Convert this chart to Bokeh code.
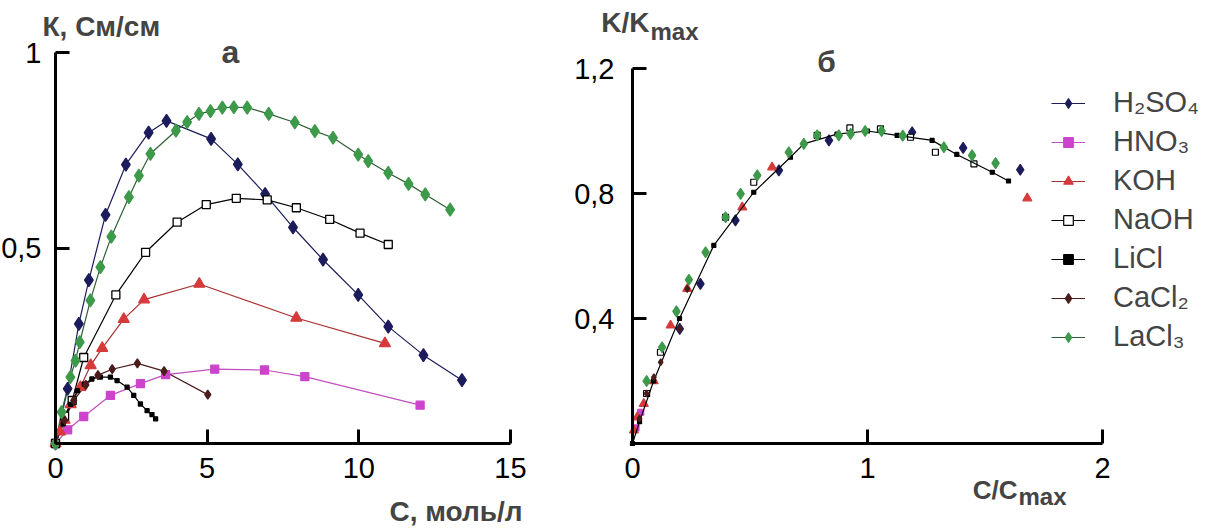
from bokeh.plotting import figure
from bokeh.layouts import row
from bokeh.models import Range1d, FixedTicker, CustomJSTickFormatter, Label, Legend, LegendItem
from bokeh.embed import file_html
from bokeh.resources import INLINE

# ---------------- data ----------------
names = ["H₂SO₄", "HNO₃", "KOH", "NaOH", "LiCl", "CaCl₂", "LaCl₃"]

# panel "а": conductivity K (См/см) vs concentration C (моль/л)
h2so4_c = [0, 0.4, 0.77, 1.10, 1.65, 2.32, 3.07, 3.66, 5.13, 6.01, 6.91, 7.83, 8.82, 9.98, 10.97, 12.13, 13.4]
h2so4_k = [0, 0.14, 0.306, 0.418, 0.585, 0.713, 0.795, 0.825, 0.779, 0.714, 0.638, 0.553, 0.47, 0.38, 0.299, 0.226, 0.162]
hno3_c = [0, 0.4, 0.93, 1.81, 2.80, 3.63, 5.25, 6.89, 8.22, 12.02]
hno3_k = [0, 0.035, 0.069, 0.123, 0.153, 0.176, 0.19, 0.188, 0.171, 0.098]
koh_c = [0, 0.15, 0.3, 0.5, 0.82, 1.16, 1.54, 2.25, 2.92, 4.74, 7.94, 10.86]
koh_k = [0, 0.03, 0.06, 0.1, 0.144, 0.2, 0.244, 0.318, 0.368, 0.408, 0.321, 0.256]
naoh_c = [0, 0.3, 0.55, 0.93, 1.99, 2.97, 4.01, 4.97, 5.96, 6.98, 7.94, 9.04, 10.04, 10.97]
naoh_k = [0, 0.07, 0.11, 0.22, 0.38, 0.489, 0.566, 0.611, 0.627, 0.623, 0.603, 0.573, 0.538, 0.509]
licl_c = [0, 0.25, 0.5, 0.72, 0.95, 1.2, 1.48, 1.81, 2.03, 2.36, 2.58, 2.80, 3.02, 3.18, 3.30]
licl_k = [0, 0.05, 0.1, 0.135, 0.152, 0.165, 0.170, 0.170, 0.161, 0.144, 0.123, 0.101, 0.084, 0.074, 0.063]
cacl2_c = [0, 0.3, 0.6, 1.0, 1.4, 1.87, 2.70, 3.58, 5.02]
cacl2_k = [0, 0.06, 0.11, 0.15, 0.175, 0.19, 0.205, 0.185, 0.125]
lacl3_c = [0, 0.2, 0.49, 0.66, 0.80, 1.15, 1.48, 1.84, 2.42, 2.75, 3.13, 3.97, 4.34, 4.73, 5.11, 5.50,
           5.88, 6.32, 7.03, 7.89, 8.55, 9.15, 9.98, 10.31, 10.97, 11.64, 12.19, 13.01]
lacl3_k = [0, 0.08, 0.17, 0.212, 0.259, 0.366, 0.451, 0.529, 0.63, 0.685, 0.741, 0.80, 0.822, 0.843, 0.85, 0.859,
           0.86, 0.859, 0.843, 0.821, 0.799, 0.782, 0.739, 0.722, 0.692, 0.664, 0.637, 0.598]

# panel "б": K/Kmax vs C/Cmax
h2so4_rx = [0.201, 0.289, 0.438, 0.623, 0.836, 1.19, 1.407, 1.65]
h2so4_ry = [0.367, 0.511, 0.714, 0.874, 0.970, 0.996, 0.946, 0.876]
hno3_rx = [0.015, 0.035]
hno3_ry = [0.05, 0.10]
koh_rx = [0.006, 0.02, 0.048, 0.09, 0.162, 0.233, 0.467, 0.594, 1.68]
koh_ry = [0.042, 0.084, 0.127, 0.2, 0.378, 0.495, 0.756, 0.884, 0.785]
naoh_rx = [0.06, 0.119, 0.396, 0.516, 0.786, 0.925, 1.055, 1.183, 1.289, 1.453]
naoh_ry = [0.16, 0.292, 0.724, 0.836, 0.986, 1.01, 1.007, 0.980, 0.932, 0.895]
licl_rx = [0, 0.03, 0.09, 0.2, 0.346, 0.516, 0.672, 0.729, 0.87, 1.0, 1.126, 1.275, 1.38, 1.531, 1.60]
licl_ry = [0, 0.07, 0.2, 0.4, 0.634, 0.804, 0.916, 0.959, 0.99, 1.0, 0.986, 0.970, 0.925, 0.868, 0.84]
cacl2_rx = [0.03, 0.06, 0.091, 0.12, 0.201, 0.233]
cacl2_ry = [0.08, 0.16, 0.212, 0.26, 0.367, 0.495]
lacl3_rx = [0.06, 0.126, 0.187, 0.240, 0.311, 0.396, 0.460, 0.531, 0.665, 0.729, 0.786, 0.878, 0.928,
            0.99, 1.06, 1.15, 1.325, 1.445, 1.545]
lacl3_ry = [0.20, 0.308, 0.423, 0.524, 0.612, 0.724, 0.799, 0.858, 0.932, 0.959, 0.986, 0.986, 0.991,
            1.0, 1.0, 0.985, 0.948, 0.922, 0.897]

left_x_ticks = [0, 5, 10, 15]
left_y_ticks = [0.5, 1]
right_x_ticks = [0, 1, 2]
right_y_ticks = [0.4, 0.8, 1.2]

left_data = [(h2so4_c, h2so4_k), (hno3_c, hno3_k), (koh_c, koh_k), (naoh_c, naoh_k),
             (licl_c, licl_k), (cacl2_c, cacl2_k), (lacl3_c, lacl3_k)]
right_data = [(h2so4_rx, h2so4_ry), (hno3_rx, hno3_ry), (koh_rx, koh_ry), (naoh_rx, naoh_ry),
              (licl_rx, licl_ry), (cacl2_rx, cacl2_ry), (lacl3_rx, lacl3_ry)]

# ---------------- styles ----------------
styles = [
    dict(marker="diamond", size=13, fill="#1c1c5c", line="#1c1c5c", lc="#1c1c5c"),
    dict(marker="square", size=8, fill="#cc44cc", line="#cc44cc", lc="#c050c0"),
    dict(marker="triangle", size=11, fill="#d63a3a", line="#d63a3a", lc="#a83030"),
    dict(marker="square", size=8, fill="white", line="black", lc="black"),
    dict(marker="square", size=4, fill="black", line="black", lc="black"),
    dict(marker="diamond", size=9, fill="#4a1c1c", line="#4a1c1c", lc="#4a1c1c"),
    dict(marker="diamond", size=13, fill="#3d9a4a", line="#3d9a4a", lc="#2f5f35"),
]
FONT = "Liberation Sans"
H = 529
AX_Y = 443  # screen y (from top) of both x axes
LABEL_SHIFT = 11  # empirical correction of Label baseline placement


def make_fig(width, x0px, xscale, yscale, xb, yb, xt, yt, y_standoff):
    # frame covers the whole figure; axes are drawn at data zero with fixed_location
    x_start = -x0px / xscale
    x_end = (width - x0px) / xscale
    y_start = -(H - AX_Y) / yscale
    y_end = AX_Y / yscale
    p = figure(width=width, height=H, x_range=Range1d(x_start, x_end), y_range=Range1d(y_start, y_end),
               output_backend="svg", toolbar_location=None,
               min_border_left=0, min_border_right=0, min_border_top=0, min_border_bottom=0)
    p.outline_line_color = None
    p.grid.visible = False
    p.background_fill_color = "white"
    p.border_fill_color = "white"
    p.xaxis.bounds = xb
    p.yaxis.bounds = yb
    p.xaxis.fixed_location = 0
    p.yaxis.fixed_location = 0
    p.xaxis.ticker = FixedTicker(ticks=xt)
    p.yaxis.ticker = FixedTicker(ticks=yt)
    for ax, so in ((p.xaxis[0], 14), (p.yaxis[0], y_standoff)):
        ax.axis_line_width = 3
        ax.axis_line_color = "black"
        ax.major_tick_line_width = 3
        ax.major_tick_in = 14
        ax.major_tick_out = 0
        ax.minor_tick_line_color = None
        ax.major_label_standoff = so
        ax.major_label_text_font = FONT
        ax.major_label_text_font_size = "29px"
        ax.major_label_text_color = "black"
        ax.formatter = CustomJSTickFormatter(code="return String(tick).replace('.', ',');")
    return p


def add_text(p, x, y_top, text, size, align="left", bold=True):
    p.add_layout(Label(x=x, y=H - y_top + LABEL_SHIFT, x_units="screen", y_units="screen", text=text,
                       text_font=FONT, text_font_size=size,
                       text_font_style="bold" if bold else "normal",
                       text_align=align, text_baseline="alphabetic"))


# left panel: x=0 at px 55, 15 at px 510; y=0 at px 443, 1 at px 52
p1 = make_fig(570, 55, 455 / 15, 391, (0, 15), (0, 1), left_x_ticks, left_y_ticks, 14)
for (xs, ys), st in zip(left_data, styles):
    p1.line(xs, ys, line_color=st["lc"], line_width=1.2)
for (xs, ys), st in zip(left_data, styles):
    p1.scatter(xs, ys, marker=st["marker"], size=st["size"], fill_color=st["fill"],
               line_color=st["line"], line_width=1.3)

add_text(p1, 42, 37, "К, См/см", "28px")
add_text(p1, 230, 62, "а", "32px", align="center")
add_text(p1, 522, 522, "С, моль/л", "28px", align="right")

# right panel (starts at page x 570): x=0 at page px 632, 2 at 1102; y=0 at 443, 1.2 at 68
p2 = make_fig(651, 62, 235, 312.5, (0, 2), (0, 1.2), right_x_ticks, right_y_ticks, 18)
items = []
for i, ((xs, ys), st) in enumerate(zip(right_data, styles)):
    if names[i] == "LiCl":
        lr = p2.line(xs, ys, line_color=st["lc"], line_width=1.2)
    else:
        # one-point line: draws nothing in the plot but gives the legend its line sample
        lr = p2.line(xs[:1], ys[:1], line_color=st["lc"], line_width=1.2)
    sr = p2.scatter(xs, ys, marker=st["marker"], size=max(st["size"] - 2, 4), fill_color=st["fill"],
                    line_color=st["line"], line_width=1.2)
    items.append(LegendItem(label=names[i], renderers=[lr, sr]))

legend = Legend(items=items, location=(481, 176), padding=0, margin=0, spacing=6,
                glyph_width=34, glyph_height=24, label_standoff=28,
                label_text_font=FONT, label_text_font_size="29px",
                background_fill_alpha=0, border_line_alpha=0)
p2.add_layout(legend)

add_text(p2, 79, 33, "K/K", "28px", align="right")
add_text(p2, 80, 42, "max", "24px")
add_text(p2, 256, 72, "б", "30px", align="center")
add_text(p2, 447, 500, "C/C", "26px", align="right")
add_text(p2, 448, 507, "max", "24px")

layout = row(p1, p2)
open("out.html", "w").write(file_html(layout, INLINE))
